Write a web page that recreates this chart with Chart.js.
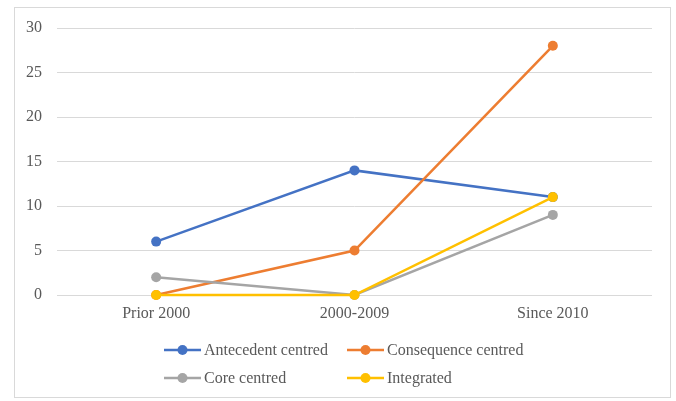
<!DOCTYPE html>
<html>
<head>
<meta charset="utf-8">
<script src="https://cdn.jsdelivr.net/npm/chart.js@4"></script>
<style>
html,body{margin:0;padding:0;background:#fff;}
#wrap{width:676px;height:401px;position:relative;}
</style>
</head>
<body>
<div id="wrap"><canvas id="c" width="676" height="401"></canvas></div>
<script>
const categories = ["Prior 2000", "2000-2009", "Since 2010"];
const seriesNames = ["Antecedent centred", "Consequence centred", "Core centred", "Integrated"];
const antecedent = [6, 14, 11];
const consequence = [0, 5, 28];
const core = [2, 0, 9];
const integrated = [0, 0, 11];
const colors = ["#4472C4", "#ED7D31", "#A5A5A5", "#FFC000"];
const FONT = "'Liberation Serif', 'Times New Roman', serif";
const TXT = "#595959";

const values = [antecedent, consequence, core, integrated];
const datasets = values.map((v, i) => ({
  label: seriesNames[i],
  data: v,
  borderColor: colors[i],
  backgroundColor: colors[i],
  borderWidth: 2.5,
  pointRadius: 5,
  pointHoverRadius: 5,
  pointBorderWidth: 0,
  tension: 0,
  clip: false,
  order: 3 - i
}));

const frameAndLegend = {
  id: 'frameAndLegend',
  beforeDraw(chart) {
    const ctx = chart.ctx;
    ctx.save();
    ctx.fillStyle = '#fff';
    ctx.fillRect(0, 0, chart.width, chart.height);
    ctx.strokeStyle = '#d9d9d9';
    ctx.lineWidth = 1;
    ctx.strokeRect(14.5, 7.5, 656, 390);
    ctx.restore();
  },
  afterDraw(chart) {
    const ctx = chart.ctx;
    const cols = [164, 347];
    const rows = [350, 378];
    ctx.save();
    ctx.font = "16px " + FONT;
    ctx.textBaseline = 'middle';
    ctx.textAlign = 'left';
    chart.data.datasets.forEach((ds, i) => {
      const x = cols[i % 2], y = rows[Math.floor(i / 2)];
      ctx.strokeStyle = ds.borderColor;
      ctx.lineWidth = 2.5;
      ctx.beginPath();
      ctx.moveTo(x, y);
      ctx.lineTo(x + 37, y);
      ctx.stroke();
      ctx.fillStyle = ds.borderColor;
      ctx.beginPath();
      ctx.arc(x + 18.5, y, 5, 0, Math.PI * 2);
      ctx.fill();
      ctx.fillStyle = TXT;
      ctx.fillText(ds.label, x + 40, y + 1);
    });
    ctx.restore();
  }
};

new Chart(document.getElementById('c'), {
  type: 'line',
  data: { labels: categories, datasets: datasets },
  options: {
    responsive: false,
    animation: false,
    events: [],
    layout: { padding: { left: 14, right: 24, top: 28, bottom: 0 } },
    plugins: { legend: { display: false }, tooltip: { enabled: false } },
    scales: {
      x: {
        offset: true,
        grid: { display: false, drawTicks: false },
        border: { display: false },
        ticks: { color: TXT, font: { family: FONT, size: 16 }, padding: 9 },
        afterFit(s) { s.height = 106; }
      },
      y: {
        min: 0, max: 30,
        ticks: { stepSize: 5, color: TXT, font: { family: FONT, size: 16 }, padding: 15 },
        grid: { color: '#d9d9d9', lineWidth: 1, drawTicks: false },
        border: { display: false },
        afterFit(s) { s.width = 43; }
      }
    }
  },
  plugins: [frameAndLegend]
});
</script>
</body>
</html>
